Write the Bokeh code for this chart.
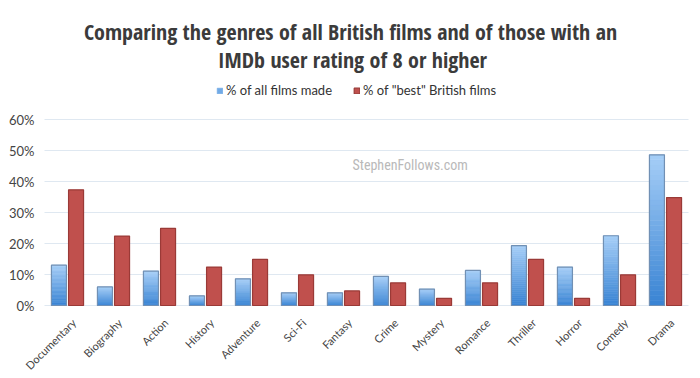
from bokeh.plotting import figure
from bokeh.models import ColumnDataSource, Range1d, Label, Legend, LegendItem, Grid
from bokeh.core.properties import value
from bokeh.embed import file_html
from bokeh.resources import INLINE
import math

# ---- data ----
genres = ["Documentary", "Biography", "Action", "History", "Adventure", "Sci-Fi",
          "Fantasy", "Crime", "Mystery", "Romance", "Thriller", "Horror", "Comedy", "Drama"]
pct_all = [0.130, 0.060, 0.111, 0.031, 0.086, 0.041, 0.041, 0.094, 0.053, 0.113,
           0.193, 0.124, 0.225, 0.486]
pct_best = [0.373, 0.224, 0.249, 0.124, 0.149, 0.099, 0.047, 0.073, 0.023, 0.073,
            0.149, 0.023, 0.099, 0.348]
y_ticks = [0, 0.1, 0.2, 0.3, 0.4, 0.5, 0.6]
y_tick_labels = ["0%", "10%", "20%", "30%", "40%", "50%", "60%"]

title_line1 = "Comparing the genres of all British films and of those with an"
title_line2 = "IMDb user rating of 8 or higher"
series_all = "% of all films made"
series_best = '% of "best" British films'
watermark = "StephenFollows.com"

# ---- layout (canvas pixels; the canvas sits at the page's top-left) ----
CANVAS_W, CANVAS_H = 692, 370
PLOT_L, PLOT_R = 44, 688       # canvas x of the plot area edges
ZERO_PX, TOP_PX = 305, 119     # canvas y of the 0% and 60% lines
ncat = len(genres)
XPX = (PLOT_R - PLOT_L) / ncat
YPX = (ZERO_PX - TOP_PX) / 0.6
x_start = -0.5 - PLOT_L / XPX
x_end = ncat - 0.5 + (CANVAS_W - PLOT_R) / XPX
y_start = -(CANVAS_H - ZERO_PX) / YPX
y_end = ZERO_PX / YPX


def sy(canvas_y):
    """canvas y (from top) -> screen units measured from the frame bottom"""
    return CANVAS_H - canvas_y


p = figure(frame_width=CANVAS_W, frame_height=CANVAS_H, output_backend="svg",
           toolbar_location=None, x_axis_location=None, y_axis_location=None,
           x_range=Range1d(x_start, x_end), y_range=Range1d(y_start, y_end),
           min_border=0)
p.outline_line_color = None
p.background_fill_color = "white"
p.border_fill_color = "white"
for g in p.select(type=Grid):
    g.visible = False

# gridlines at the tick values
p.segment(x0=[-0.5] * len(y_ticks), x1=[ncat - 0.5] * len(y_ticks),
          y0=y_ticks, y1=y_ticks, line_color="#dfe8f1", line_width=1)

# y tick labels
p.text(x=[-0.5 - 10 / XPX] * len(y_ticks), y=y_ticks, text=y_tick_labels,
       text_align="right", text_baseline="middle", text_font=value("Lato"),
       text_font_size="13px", text_color="#444444")

idx = list(range(ncat))
off = 0.186
bw = 0.326
xa = [i - off for i in idx]
xb = [i + off for i in idx]

# gradient for blue bars: stacked segments
n = 30
c_top = (166, 206, 247)
c_bot = (56, 131, 211)
mid_r = None
for k in range(n):
    t = (k + 0.5) / n   # 0 bottom -> 1 top
    col = tuple(int(round(c_bot[j] + (c_top[j] - c_bot[j]) * t)) for j in range(3))
    hexc = "#%02x%02x%02x" % col
    src = ColumnDataSource(dict(x=xa,
                                bottom=[v * k / n for v in pct_all],
                                top=[v * (k + 1) / n for v in pct_all]))
    r = p.vbar(x="x", bottom="bottom", top="top", width=bw, source=src,
               fill_color=hexc, line_color=hexc, line_width=0.6)
    if k == n // 2:
        mid_r = r
src_a = ColumnDataSource(dict(x=xa, top=pct_all))
p.vbar(x="x", top="top", bottom=0, width=bw, source=src_a, fill_color=None,
       line_color="#7190b4", line_width=1.2)

src_b = ColumnDataSource(dict(x=xb, top=pct_best))
rb = p.vbar(x="x", top="top", bottom=0, width=bw, source=src_b, fill_color="#c0504d",
            line_color="#9a3a37", line_width=1.2)

# category labels (rotated), positioned by the x scale
lab_src = ColumnDataSource(dict(x=[i + 0.04 for i in idx],
                                y=[-10.5 / YPX] * ncat,
                                text=genres))
p.text(x="x", y="y", text="text", source=lab_src, angle=math.pi / 4,
       text_align="right", text_baseline="top", text_font=value("Lato"),
       text_font_size="11px", text_color="#444444")

# titles (screen units relative to frame bottom-left)
TFONT = "Open Sans Condensed"
p.add_layout(Label(x=350, y=sy(30), x_units="screen", y_units="screen",
                   text=title_line1, text_align="center", text_baseline="alphabetic",
                   text_font=TFONT, text_font_style="bold",
                   text_font_size="22px", text_color="#3b3b3b"))
p.add_layout(Label(x=352, y=sy(58), x_units="screen", y_units="screen",
                   text=title_line2, text_align="center", text_baseline="alphabetic",
                   text_font=TFONT, text_font_style="bold",
                   text_font_size="22px", text_color="#3b3b3b"))
p.add_layout(Label(x=352, y=sy(164), x_units="screen", y_units="screen",
                   text=watermark, text_align="left", text_baseline="middle",
                   text_font="Roboto Condensed", text_font_size="14px",
                   text_color="#b9b9b9"))

legend = Legend(items=[LegendItem(label=series_all, renderers=[mid_r]),
                       LegendItem(label=series_best, renderers=[rb])],
                orientation="horizontal", location=(216, sy(98)),
                glyph_width=7, glyph_height=7, label_standoff=3, spacing=21,
                padding=0, margin=0, background_fill_alpha=0, border_line_color=None,
                label_text_font="Lato", label_text_font_size="13px",
                label_text_color="#333333")
p.add_layout(legend)

open("out.html", "w").write(file_html(p, INLINE))
